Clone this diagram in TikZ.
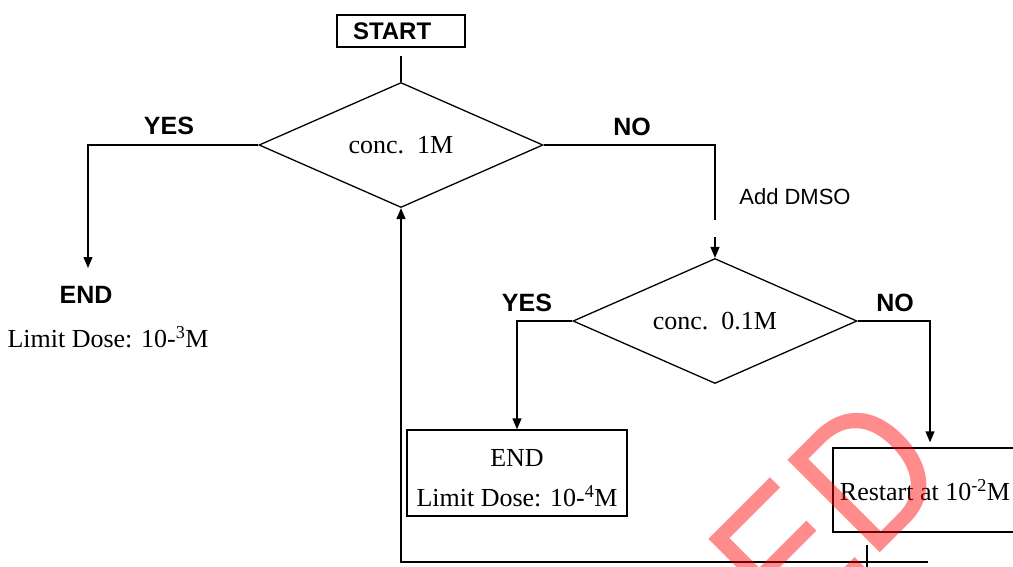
\documentclass[tikz,border=0pt]{standalone}
\usepackage{fontspec}
\setmainfont{Liberation Serif}
\setsansfont{Liberation Sans}
\usetikzlibrary{shapes,arrows,positioning,calc,arrows.meta}

\begin{document}
\begin{tikzpicture}[x=1pt,y=-1pt,
    decision/.style={draw,diamond,line width=1.3pt,minimum width=284pt,minimum height=125pt,aspect=2.25,inner sep=0pt,font=\fontsize{26}{31}\selectfont},
    block/.style={draw,rectangle,line width=1.4pt,inner sep=0pt,font=\fontsize{26}{40}\selectfont},
    answer/.style={font=\sffamily\bfseries\fontsize{25}{30}\selectfont},
    wire/.style={line width=1.4pt},
    arr/.style={line width=1.4pt,-{Triangle[length=11pt,width=9pt]}}]

    \useasboundingbox (0,0) rectangle (1013,566);
    \clip (0,0) rectangle (1013,566);

    % START and first test
    \node[draw,line width=1.4pt,minimum width=128pt,minimum height=32pt,inner xsep=16pt,inner ysep=0pt,text width=96pt,align=left,font=\sffamily\bfseries\fontsize{24}{28}\selectfont] (start) at (401,31) {START};
    \node[decision] (d1) at (401,145) {conc.\ \ 1M};
    \draw[wire] ([yshift=-8pt]start.south) -- (d1.north);

    % YES branch of 1M
    \node[answer] (yes1) at (169,126) {YES};
    \node[answer] (end1) at (86,295) {END};
    \node[font=\fontsize{26}{31}\selectfont] (dose1) at (108,337) {Limit Dose: 10-\textsuperscript{3}M};
    \coordinate (c1) at (88,268);
    \draw[arr] (d1.west) -| (c1);

    % NO branch of 1M
    \node[answer] (no1) at (632,127) {NO};
    \node[font=\sffamily\fontsize{22}{26}\selectfont] (dmso) at (795,197) {Add DMSO};
    \coordinate (c2) at (715,220);
    \coordinate (c3) at (715,237);
    \draw[wire] (d1.east) -| (c2);
    \node[decision] (d2) at (715,321) {conc.\ \ 0.1M};
    \draw[arr] (c3) -- (d2.north);

    % second test
    \node[answer] (yes2) at (527,303) {YES};
    \node[answer] (no2) at (895,303) {NO};
    \node[block,align=center,minimum width=220pt,minimum height=86pt] (end2) at (517,473) {\rule{0pt}{27pt}END\\Limit Dose: 10-\textsuperscript{4}M};
    \draw[arr] (d2.west) -| (end2.north);
    \node[block,minimum width=194pt,minimum height=84pt] (restart) at (930,490) {Restart at 10\textsuperscript{-2}M\kern10pt};
    \draw[arr,shorten >=5pt] (d2.east) -| (restart.north);

    % back to the first test
    \coordinate (fb) at (928,562);
    \draw[arr] (fb) -| (d1.south);
    \coordinate (t1) at (867,545);
    \coordinate (t2) at (867,570);
    \draw[line width=2.6pt] (t1) -- (t2);

    % watermark
    \node[rotate=45,xscale=0.88,inner sep=0pt,anchor=base east,text=red,text opacity=0.45,font=\sffamily\fontsize{190}{190}\selectfont] (mark) at (956,477) {ED};
\end{tikzpicture}
\end{document}
